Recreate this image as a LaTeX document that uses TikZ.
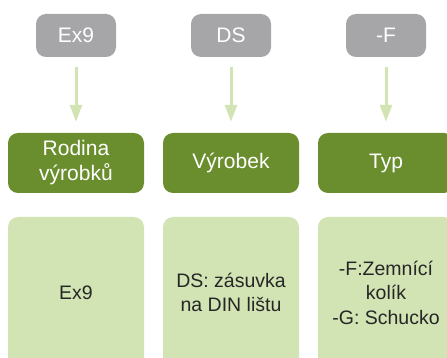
\documentclass[tikz,border=0pt]{standalone}
\usepackage{fontspec}
\setmainfont{Liberation Sans}
\usetikzlibrary{arrows.meta}
\definecolor{codegray}{HTML}{A6A6A8}
\definecolor{darkgreen}{HTML}{6A8E2E}
\definecolor{palegreen}{HTML}{D2E4B4}
\definecolor{textdark}{HTML}{262626}
\begin{document}
\begin{tikzpicture}[x=1pt, y=-1pt,
    codebox/.style={fill=codegray, rounded corners=10pt, minimum width=80pt, minimum height=43pt, text=white, font=\fontsize{21}{25}\selectfont},
    titlebox/.style={fill=darkgreen, rounded corners=10pt, minimum width=136pt, minimum height=60pt, text=white, align=center, font=\fontsize{21}{25}\selectfont},
    infobox/.style={fill=palegreen, rounded corners=10pt, minimum width=136pt, minimum height=151pt, text=textdark, align=center, font=\fontsize{19.5}{24.5}\selectfont},
    codearrow/.style={draw=palegreen, line width=3pt, -{Triangle[width=12pt, length=17pt]}, shorten <=10pt, shorten >=11pt}]
    \clip (0, 0) rectangle (447, 358);
    % codes
    \node[codebox] (code1) at (76, 35.5) {Ex9};
    \node[codebox] (code2) at (231, 35.5) {DS};
    \node[codebox] (code3) at (386, 35.5) {-F};
    % headings
    \node[titlebox] (title1) at (76, 163) {Rodina\\výrobků};
    \node[titlebox] (title2) at (231, 163) {Výrobek};
    \node[titlebox] (title3) at (386, 163) {Typ};
    % descriptions
    \node[infobox] (info1) at (76, 292.5) {Ex9};
    \node[infobox] (info2) at (231, 292.5) {DS: zásuvka\\na DIN lištu};
    \node[infobox] (info3) at (386, 292.5) {-F:Zemnící\\kolík\\-G: Schucko};
    \draw[codearrow] (code1) -- (title1);
    \draw[codearrow] (code2) -- (title2);
    \draw[codearrow] (code3) -- (title3);
\end{tikzpicture}
\end{document}
